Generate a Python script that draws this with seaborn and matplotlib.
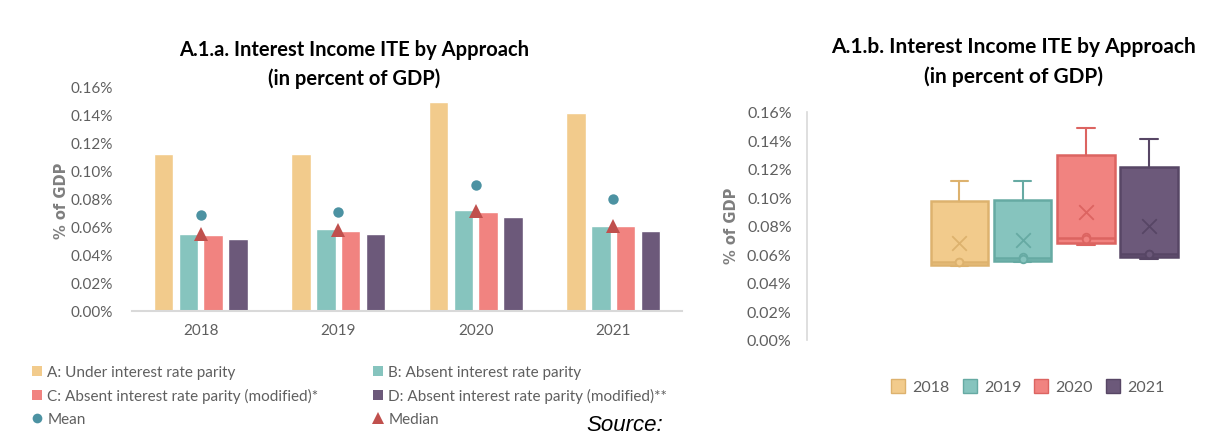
import numpy as np
import pandas as pd
import matplotlib
matplotlib.use("Agg")
import matplotlib.pyplot as plt
from matplotlib.lines import Line2D
import seaborn as sns

# values in % of GDP
years = ["2018", "2019", "2020", "2021"]
approaches = ["A: Under interest rate parity",
              "B: Absent interest rate parity",
              "C: Absent interest rate parity (modified)*",
              "D: Absent interest rate parity (modified)**"]
approach_a = [0.1115, 0.1115, 0.1486, 0.1410]
approach_b = [0.0547, 0.0583, 0.0718, 0.0604]
approach_c = [0.0542, 0.0568, 0.0706, 0.0604]
approach_d = [0.0514, 0.0544, 0.0666, 0.0568]
y_ticks = [0.00, 0.02, 0.04, 0.06, 0.08, 0.10, 0.12, 0.14, 0.16]

colors = ["#F2CB8C", "#86C4BE", "#F18380", "#6C597A"]
edge_colors = ["#DDB26E", "#66AAA3", "#DC6461", "#574665"]
mean_color = "#4C92A2"
median_color = "#C0504D"
grey = "#5F5F5F"

sns.set_theme(style="white")
plt.rcParams['font.family'] = ['Lato', 'DejaVu Sans']

rows = []
for name, vals in zip(approaches, [approach_a, approach_b, approach_c, approach_d]):
    for yr, v in zip(years, vals):
        rows.append({"year": yr, "approach": name, "value": v})
df = pd.DataFrame(rows)

W, H = 1230, 435
fig = plt.figure(figsize=(12.3, 4.35), dpi=100)

# ---------- A.1.a bars ----------
ax1 = fig.add_axes([132 / W, (H - 311.7) / H, 550 / W, 224.4 / H])
sns.barplot(data=df, x="year", y="value", hue="approach", palette=colors,
            saturation=1, width=0.72, gap=0.22, legend=False, ax=ax1)
sns.pointplot(data=df, x="year", y="value", estimator="mean", errorbar=None,
              color=mean_color, linestyle="none", marker="o", markersize=7.5,
              markeredgewidth=0, ax=ax1)
sns.pointplot(data=df, x="year", y="value", estimator="median", errorbar=None,
              color=median_color, linestyle="none", marker="^", markersize=10.5,
              markeredgewidth=0, ax=ax1)
ax1.set_ylim(0, 0.16)
ax1.set_xlim(-0.5, 3.5)
ax1.set_yticks(y_ticks)
ax1.set_yticklabels([f"{t:.2f}%" for t in y_ticks])
ax1.set_xlabel("")
ax1.set_ylabel("")
ax1.tick_params(axis="both", length=0, labelsize=11, labelcolor=grey)
ax1.tick_params(axis="y", pad=14)
ax1.tick_params(axis="x", pad=9)
for s in ["top", "right", "left"]:
    ax1.spines[s].set_visible(False)
ax1.spines["bottom"].set_color("#D9D9D9")
ax1.spines["bottom"].set_linewidth(1.5)

fig.text(354 / W, 1 - 50 / H, "A.1.a. Interest Income ITE by Approach",
         ha="center", va="center", fontsize=14.5, fontweight="bold", color="black")
fig.text(354 / W, 1 - 79 / H, "(in percent of GDP)",
         ha="center", va="center", fontsize=14.5, fontweight="bold", color="black")
fig.text(61 / W, 1 - 200.5 / H, "% of GDP", rotation=90, ha="center", va="center",
         fontsize=10.5, fontweight="bold", color="#7F7F7F", family="DejaVu Sans")

sq = dict(marker="s", linestyle="none", markersize=6.5, markeredgewidth=0)
col1 = [Line2D([], [], color=colors[0], **sq),
        Line2D([], [], color=colors[2], **sq),
        Line2D([], [], color=mean_color, marker="o", linestyle="none",
               markersize=7, markeredgewidth=0)]
col2 = [Line2D([], [], color=colors[1], **sq),
        Line2D([], [], color=colors[3], **sq),
        Line2D([], [], color=median_color, marker="^", linestyle="none",
               markersize=8, markeredgewidth=0)]
leg_kw = dict(loc="upper left", frameon=False, fontsize=11, handlelength=0.8,
              handletextpad=0.3, labelspacing=0.6, borderpad=0, borderaxespad=0,
              labelcolor=grey)
fig.legend(col1, [approaches[0], approaches[2], "Mean"],
           bbox_to_anchor=(30.5 / W, 1 - 366 / H), **leg_kw)
fig.legend(col2, [approaches[1], approaches[3], "Median"],
           bbox_to_anchor=(371.5 / W, 1 - 366 / H), **leg_kw)

fig.text(586 / W, 1 - 426 / H, "Source:", ha="left", va="center", fontsize=16,
         style="italic", color="black", family="Liberation Sans")

# ---------- A.1.b box & whisker ----------
ax2 = fig.add_axes([807 / W, (H - 340.7) / H, 418 / W, 228 / H])
stats = []
inner_x, inner_y = [], []
for i, yr in enumerate(years):
    vals = np.array([approach_a[i], approach_b[i], approach_c[i], approach_d[i]])
    q1, med, q3 = np.percentile(vals, [25, 50, 75], method="weibull")
    iqr = q3 - q1
    lo = vals[vals >= q1 - 1.5 * iqr].min()
    hi = vals[vals <= q3 + 1.5 * iqr].max()
    stats.append(dict(label=yr, q1=q1, med=med, q3=q3, whislo=lo, whishi=hi,
                      mean=vals.mean(), fliers=[]))
    inside = vals[(vals > lo) & (vals < hi)]
    inner_x.append(np.full(len(inside), i))
    inner_y.append(inside)

bp = ax2.bxp(stats, positions=range(4), widths=0.91, patch_artist=True,
             showfliers=False, capwidths=0.28)
for i in range(4):
    bp["boxes"][i].set_facecolor(colors[i])
    bp["boxes"][i].set_edgecolor(edge_colors[i])
    bp["boxes"][i].set_linewidth(1.8)
    bp["medians"][i].set_color(edge_colors[i])
    bp["medians"][i].set_linewidth(1.8)
    for art in bp["whiskers"][2 * i:2 * i + 2] + bp["caps"][2 * i:2 * i + 2]:
        art.set_color(edge_colors[i])
        art.set_linewidth(1.5)
    ax2.scatter(inner_x[i], inner_y[i], s=30, facecolor=colors[i],
                edgecolor=edge_colors[i], linewidth=1.3, zorder=4)
    ax2.scatter([i], [stats[i]["mean"]], marker="x", s=110,
                color=edge_colors[i], linewidth=1.3, zorder=4)

ax2.set_xlim(-2.41, 4.20)
ax2.set_ylim(0, 0.16)
ax2.set_yticks(y_ticks)
ax2.set_yticklabels([f"{t:.2f}%" for t in y_ticks])
ax2.set_xticks([])
ax2.tick_params(axis="y", length=0, labelsize=11.5, labelcolor=grey, pad=11)
for s in ["top", "right", "bottom"]:
    ax2.spines[s].set_visible(False)
ax2.spines["left"].set_color("#D9D9D9")
ax2.spines["left"].set_linewidth(1.2)

fig.text(1013 / W, 1 - 46.7 / H, "A.1.b. Interest Income ITE by Approach",
         ha="center", va="center", fontsize=15, fontweight="bold", color="black")
fig.text(1013 / W, 1 - 76.7 / H, "(in percent of GDP)",
         ha="center", va="center", fontsize=15, fontweight="bold", color="black")
fig.text(731 / W, 1 - 226 / H, "% of GDP", rotation=90, ha="center",
         va="center", fontsize=10.5, fontweight="bold", color="#7F7F7F",
         family="DejaVu Sans")

year_handles = [Line2D([], [], marker="s", linestyle="none", markersize=10,
                       markerfacecolor=colors[i], markeredgecolor=edge_colors[i],
                       markeredgewidth=1) for i in range(4)]
fig.legend(year_handles, years, loc="center left", ncol=4, frameon=False,
           fontsize=11.5, handlelength=1.0, handletextpad=0.4, columnspacing=0.75,
           borderpad=0, borderaxespad=0, labelcolor=grey,
           bbox_to_anchor=(890 / W, 1 - 388.3 / H))

fig.savefig("out.png", dpi=100)
